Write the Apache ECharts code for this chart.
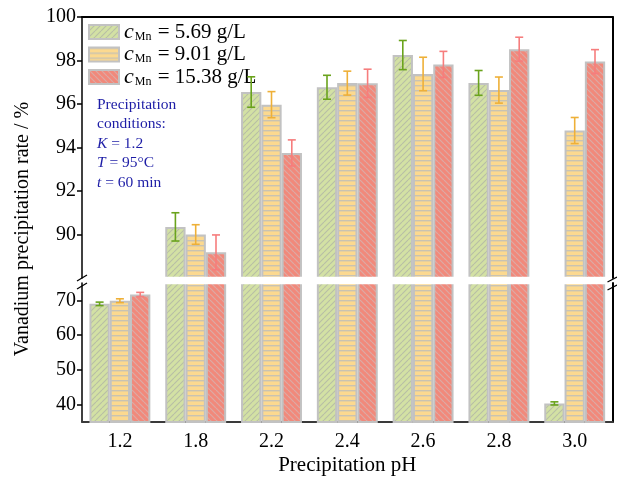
<!DOCTYPE html>
<html>
<head>
<meta charset="utf-8">
<script src="https://cdn.jsdelivr.net/npm/echarts@6/dist/echarts.min.js"></script>
<style>html,body{margin:0;padding:0;background:#fff}#c{width:617px;height:477px}</style>
</head>
<body>
<div id="c"></div>
<script>
// ---- data ----
const categories = ['1.2', '1.8', '2.2', '2.4', '2.6', '2.8', '3.0'];
const seriesLabels = ['5.69', '9.01', '15.38'];
const mn569 = [69.0, 90.35, 96.55, 96.77, 98.25, 96.97, 40.35];
const mn569Err = [0.5, 0.65, 0.7, 0.55, 0.67, 0.57, 0.45];
const mn901 = [69.9, 90.0, 95.97, 96.96, 97.38, 96.64, 94.78];
const mn901Err = [0.55, 0.45, 0.6, 0.55, 0.77, 0.6, 0.6];
const mn1538 = [71.7, 89.18, 93.75, 96.95, 97.82, 98.52, 97.95];
const mn1538Err = [0.6, 0.8, 0.6, 0.65, 0.6, 0.55, 0.55];
const upperTicks = [90, 92, 94, 96, 98, 100];
const lowerTicks = [40, 50, 60, 70];

// ---- layout / style ----
const FONT = 'Liberation Serif';
const UP = {min: 88, max: 100};
const LO = {min: 35, max: 75};
const L = 82, R = 4.4;
const UP_TOP = 17, UP_H = 261;
const LO_TOP = 283, LO_H = 139.7;
const BAR_W = 20.3;

function hatch(type) {
  const c = document.createElement('canvas');
  const s = 6;
  c.width = s; c.height = s;
  const g = c.getContext('2d');
  if (type === 'green') {
    g.fillStyle = '#d3e1a4'; g.fillRect(0, 0, s, s);
    g.strokeStyle = '#b7bea6'; g.lineWidth = 1.1;
    for (const o of [-s, 0, s]) { g.beginPath(); g.moveTo(o, s); g.lineTo(o + s, 0); g.stroke(); }
  } else if (type === 'yellow') {
    c.height = 5;
    g.fillStyle = '#fcd98f'; g.fillRect(0, 0, s, 5);
    g.fillStyle = '#c9c3b2'; g.fillRect(0, 0, s, 1.4);
  } else {
    g.fillStyle = '#f1897b'; g.fillRect(0, 0, s, s);
    g.strokeStyle = '#dcaaa5'; g.lineWidth = 1.2;
    for (const o of [-s, 0, s]) { g.beginPath(); g.moveTo(o, 0); g.lineTo(o + s, s); g.stroke(); }
  }
  return {image: c, repeat: 'repeat'};
}
const fills = [hatch('green'), hatch('yellow'), hatch('red')];
const errColors = ['#6aa31c', '#eeb038', '#f67d7d'];
const values = [mn569, mn901, mn1538];
const errs = [mn569Err, mn901Err, mn1538Err];
const names = seriesLabels.map(s => 'Mn' + s);

function errRender(k) {
  return function (params, api) {
    const x = api.value(0), y = api.value(1), e = api.value(2);
    const t = api.coord([x, y + e]);
    const b = api.coord([x, y - e]);
    const cx = t[0] + (k - 1) * BAR_W;
    const cap = 4;
    const st = {stroke: errColors[k], lineWidth: 1.6};
    return {type: 'group', children: [
      {type: 'line', shape: {x1: cx, y1: t[1], x2: cx, y2: b[1]}, style: st},
      {type: 'line', shape: {x1: cx - cap, y1: t[1], x2: cx + cap, y2: t[1]}, style: st},
      {type: 'line', shape: {x1: cx - cap, y1: b[1], x2: cx + cap, y2: b[1]}, style: st}
    ]};
  };
}

const series = [];
for (let k = 0; k < 3; k++) {
  const itemStyle = {color: fills[k], borderColor: '#c2c2c2', borderWidth: 2};
  series.push({
    name: names[k], type: 'bar', xAxisIndex: 0, yAxisIndex: 0,
    barWidth: BAR_W, barGap: '0%', clip: true, itemStyle,
    data: values[k].map(v => v > UP.min ? v : '-')
  });
  series.push({
    name: names[k], type: 'bar', xAxisIndex: 1, yAxisIndex: 1,
    barWidth: BAR_W, barGap: '0%', clip: true, itemStyle,
    data: values[k].slice()
  });
}
for (let k = 0; k < 3; k++) {
  const up = [], lo = [];
  values[k].forEach((v, i) => {
    if (v > UP.min) up.push([i, v, errs[k][i]]);
    if (v < LO.max) lo.push([i, v, errs[k][i]]);
  });
  series.push({type: 'custom', xAxisIndex: 0, yAxisIndex: 0, clip: true, z: 5, renderItem: errRender(k), data: up, silent: true});
  series.push({type: 'custom', xAxisIndex: 1, yAxisIndex: 1, clip: true, z: 5, renderItem: errRender(k), data: lo, silent: true});
}

const tickLabel = {fontFamily: FONT, fontSize: 20, color: '#000'};
const blackLine = {show: true, lineStyle: {color: '#000', width: 1.5}};

const option = {
  animation: false,
  textStyle: {fontFamily: FONT},
  grid: [
    {left: L, right: R, top: UP_TOP, height: UP_H},
    {left: L, right: R, top: LO_TOP, height: LO_H}
  ],
  xAxis: [
    {gridIndex: 0, type: 'category', data: categories, show: false},
    {gridIndex: 1, type: 'category', data: categories,
      axisLine: {show: true, lineStyle: {color: '#3a3a3a', width: 2}},
      axisTick: {show: true, inside: true, alignWithLabel: true, length: 6, lineStyle: {color: '#000', width: 1.5}},
      axisLabel: Object.assign({margin: 10}, tickLabel),
      name: 'Precipitation pH', nameLocation: 'middle', nameGap: 33,
      nameTextStyle: {fontFamily: FONT, fontSize: 21, color: '#000'}},
    {gridIndex: 0, type: 'category', data: categories, position: 'top',
      axisLine: {show: true, lineStyle: {color: '#000', width: 2}}, axisTick: {show: false}, axisLabel: {show: false}}
  ],
  yAxis: [
    {gridIndex: 0, type: 'value', min: UP.min, max: UP.max,
      axisLine: blackLine,
      axisTick: {show: true, length: 5, customValues: upperTicks, lineStyle: {color: '#000', width: 1.5}},
      axisLabel: Object.assign({customValues: upperTicks, margin: 6}, tickLabel),
      splitLine: {show: false}},
    {gridIndex: 1, type: 'value', min: LO.min, max: LO.max,
      axisLine: blackLine,
      axisTick: {show: true, length: 5, customValues: lowerTicks, lineStyle: {color: '#000', width: 1.5}},
      axisLabel: Object.assign({customValues: lowerTicks, margin: 6}, tickLabel),
      splitLine: {show: false}},
    {gridIndex: 0, type: 'value', min: UP.min, max: UP.max, position: 'right',
      axisLine: {show: true, lineStyle: {color: '#000', width: 2}}, axisTick: {show: false}, axisLabel: {show: false}, splitLine: {show: false}},
    {gridIndex: 1, type: 'value', min: LO.min, max: LO.max, position: 'right',
      axisLine: {show: true, lineStyle: {color: '#000', width: 2}}, axisTick: {show: false}, axisLabel: {show: false}, splitLine: {show: false}}
  ],
  legend: {
    data: names, orient: 'vertical', left: 88, top: 21, padding: 0,
    itemWidth: 30, itemHeight: 14, itemGap: 0.5, icon: 'rect',
    selectedMode: false,
    formatter: function (n) { return '{i|c}{s|Mn}{t| = ' + n.slice(2) + ' g/L}'; },
    textStyle: {
      fontFamily: FONT, color: '#000',
      rich: {
        i: {fontFamily: FONT, fontStyle: 'italic', fontSize: 22, lineHeight: 22, color: '#000'},
        s: {fontFamily: FONT, fontSize: 12, lineHeight: 12, color: '#000', padding: [9, 1, 0, 1]},
        t: {fontFamily: FONT, fontSize: 21, lineHeight: 22, color: '#000'}
      }
    }
  },
  graphic: [
    {type: 'rect', z: 100, shape: {x: 83, y: 276.8, width: 528, height: 7.4}, style: {fill: '#fff'}},
    {type: 'text', x: 23, y: 229, rotation: Math.PI / 2,
      style: {text: 'Vanadium precipitation rate / %', font: '20px "Liberation Serif"', fill: '#000', align: 'center', verticalAlign: 'middle'}},
    {type: 'text', x: 97, y: 95, style: {
      text: 'Precipitation\nconditions:\n{i|K} = 1.2\n{i|T} = 95°C\n{i|t} = 60 min',
      font: '15.5px "Liberation Serif"', fill: '#1d1da6', lineHeight: 19.5,
      rich: {i: {fontStyle: 'italic', fontFamily: FONT, fontSize: 15.5, fill: '#1d1da6', lineHeight: 19.5}}
    }},
    {type: 'line', z: 101, shape: {x1: 77, y1: 281, x2: 87, y2: 275}, style: {stroke: '#000', lineWidth: 1.3}},
    {type: 'line', z: 101, shape: {x1: 77, y1: 289, x2: 87, y2: 283}, style: {stroke: '#000', lineWidth: 1.3}},
    {type: 'line', z: 101, shape: {x1: 607.5, y1: 282, x2: 617, y2: 277}, style: {stroke: '#000', lineWidth: 1.3}},
    {type: 'line', z: 101, shape: {x1: 607.5, y1: 290, x2: 617, y2: 285}, style: {stroke: '#000', lineWidth: 1.3}}
  ],
  series: series
};
const chart = echarts.init(document.getElementById('c'));
chart.setOption(option);
</script>
</body>
</html>
